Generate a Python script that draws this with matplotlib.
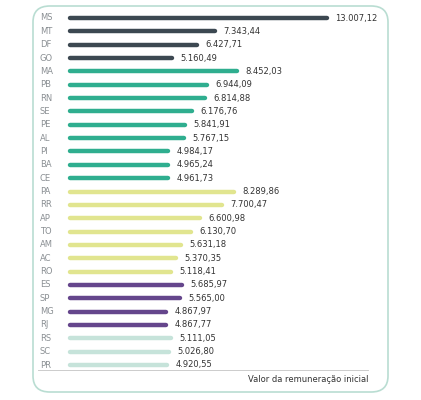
import matplotlib.pyplot as plt
from matplotlib.patches import FancyBboxPatch
import matplotlib.transforms as mt

states = ["MS", "MT", "DF", "GO",
          "MA", "PB", "RN", "SE", "PE", "AL", "PI", "BA", "CE",
          "PA", "RR", "AP", "TO", "AM", "AC", "RO",
          "ES", "SP", "MG", "RJ",
          "RS", "SC", "PR"]
values = [13007.12, 7343.44, 6427.71, 5160.49,
          8452.03, 6944.09, 6814.88, 6176.76, 5841.91, 5767.15, 4984.17, 4965.24, 4961.73,
          8289.86, 7700.47, 6600.98, 6130.70, 5631.18, 5370.35, 5118.41,
          5685.97, 5565.00, 4867.97, 4867.77,
          5111.05, 5026.80, 4920.55]
group_sizes = [4, 9, 7, 4, 3]
group_colors = ["#3c4851", "#2fae8f", "#e1e58f", "#65468c", "#c6e3da"]

colors = []
for n, c in zip(group_sizes, group_colors):
    colors += [c] * n

def fmt(v):
    s = f"{v:,.2f}"
    return s.replace(",", "X").replace(".", ",").replace("X", ".")

fig = plt.figure(figsize=(4.21, 4.0), dpi=100)
fig.patch.set_facecolor("white")

box = FancyBboxPatch((33 / 421, 1 - 392 / 400), 355 / 421, 386 / 400,
                     boxstyle="round,pad=0,rounding_size=0.04",
                     transform=fig.transFigure, facecolor="none",
                     edgecolor="#b9ddd2", linewidth=1.2)
fig.patches.append(box)

ax = fig.add_axes([70 / 421, 1 - 365 / 400, 257 / 421, 347 / 400])
ax.set_xlim(0, 13007.12)
ax.set_ylim(len(states) - 1, 0)
ax.axis("off")

lbl = mt.blended_transform_factory(fig.transFigure, ax.transData)
off = mt.offsets_from_points = None
for i, (s, v, c) in enumerate(zip(states, values, colors)):
    ax.plot([0, v], [i, i], color=c, lw=3.2, solid_capstyle="round", clip_on=False)
    ax.text(40 / 421, i, s, transform=lbl, ha="left", va="center",
            fontsize=6, color="#8a8f93")
    ax.annotate(fmt(v), (v, i), xytext=(6, 0), textcoords="offset points",
                ha="left", va="center", fontsize=6, color="#333333")

fig.add_artist(plt.Line2D([38 / 421, 368 / 421], [1 - 370 / 400] * 2,
                          color="#cccccc", lw=0.7, transform=fig.transFigure))
fig.text(368 / 421, 1 - 379 / 400, "Valor da remuneração inicial",
         ha="right", va="center", fontsize=6, color="#333333")

fig.savefig("out.png", dpi=100)
